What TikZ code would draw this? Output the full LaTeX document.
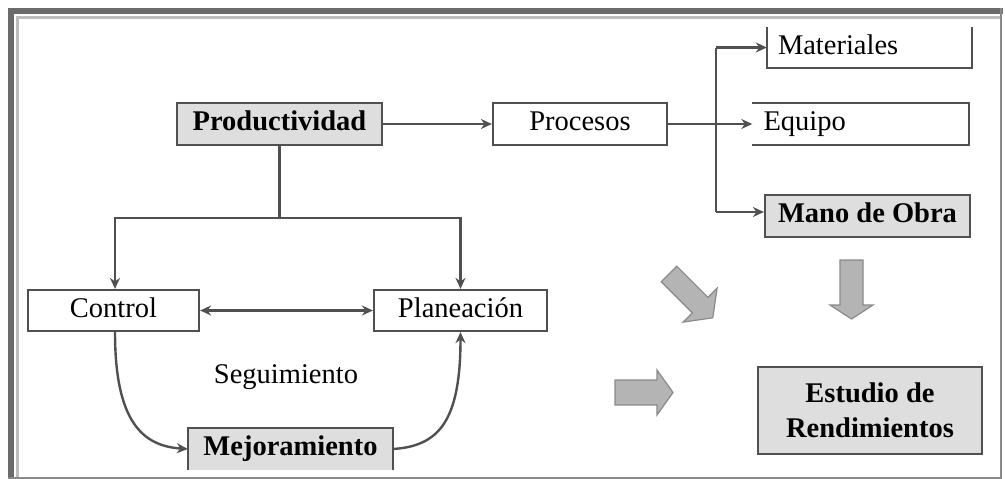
\documentclass[tikz,border=0pt]{standalone}
\usepackage{fontspec}
\setmainfont{Liberation Serif}
\usetikzlibrary{arrows.meta}
\definecolor{boxline}{HTML}{505050}
\definecolor{boxfill}{HTML}{DEDEDE}
\definecolor{blockfill}{HTML}{B4B4B4}
\definecolor{blockline}{HTML}{8A8A8A}
\definecolor{framedark}{HTML}{6B6B6B}
\definecolor{framelight}{HTML}{BDBDBD}
\begin{document}
\begin{tikzpicture}[x=1pt,y=-1pt,
  txt/.style={font=\fontsize{28.5}{34}\selectfont, inner sep=0pt, text height=19pt, text depth=6pt},
  plainbox/.style={txt, draw=boxline, line width=2.2pt, fill=white},
  openbox/.style={txt, fill=white},
  greybox/.style={txt, draw=boxline, line width=2.2pt, fill=boxfill, font=\bfseries\fontsize{28.5}{34}\selectfont},
  edgeline/.style={draw=boxline, line width=2.2pt},
  conn/.style={draw=boxline, line width=2.4pt, -{Stealth[length=11pt,width=10pt]}},
  conntwo/.style={draw=boxline, line width=2.4pt, {Stealth[length=11pt,width=10pt]}-{Stealth[length=11pt,width=10pt]}},
  plainline/.style={draw=boxline, line width=2.4pt},
  blockarrow/.style={fill=blockfill, draw=blockline, line width=1.2pt, line join=miter}
]
\useasboundingbox (0,0) rectangle (1005,479);
\fill[white] (0,0) rectangle (1005,479);
% frame
\fill[framedark] (8,8) rectangle (1003,14);
\fill[framedark] (8,8) rectangle (14,479);
\draw[framelight, line width=3pt] (17.5,477) -- (17.5,17.5) -- (1000,17.5);
\draw[framedark!80, line width=2pt] (1001,8) -- (1001,478) -- (8,478);

% nodes
\node[greybox, minimum width=205pt, minimum height=42pt] (prod) at (279.5,124) {Productividad};
\node[plainbox, minimum width=174pt, minimum height=42pt] (proc) at (580,124) {Procesos};
\node[openbox, minimum width=205pt, minimum height=41pt, text width=183pt, inner xsep=11pt, align=left] (mat) at (869.5,47.5) {Materiales};
\node[openbox, minimum width=205pt, minimum height=42pt, text width=194pt, inner xsep=11pt, align=left] (equ) at (860.5,124) {Equipo};
\node[greybox, minimum width=205pt, minimum height=42pt] (mano) at (867.5,216) {Mano de Obra};
\node[plainbox, minimum width=171pt, minimum height=41pt] (ctrl) at (113.5,310.5) {Control};
\node[plainbox, minimum width=173pt, minimum height=41pt] (plan) at (460.5,310.5) {Planeación};
\node[openbox, fill=boxfill, minimum width=205pt, minimum height=42pt, font=\bfseries\fontsize{28.5}{34}\selectfont] (mej) at (290.5,449) {Mejoramiento};
\node[txt] (seg) at (286,377) {Seguimiento};
\node[greybox, minimum width=224pt, minimum height=87pt, align=center, text height=, text depth=, font=\bfseries\fontsize{28.5}{35}\selectfont] (est) at (870,410.5) {Estudio de\\Rendimientos};

% partial borders
\draw[edgeline] (mat.north west) -- (mat.south west) -- (mat.south east) -- (mat.north east);
\draw[edgeline] (equ.north west) -- (equ.north east) -- (equ.south east) -- (equ.south west);
\draw[edgeline] (mej.south west) -- (mej.north west) -- (mej.north east) -- (mej.south east);

% connectors
\draw[conn] (prod.east) -- (proc.west);
\draw[conn] (proc.east) -- (equ.west);
\coordinate (bus) at (716,124);
\coordinate (manoin) at ([yshift=4pt]mano.west);
\coordinate (bustop) at (bus |- mat.west);
\coordinate (busbot) at (bus |- manoin);
\draw[plainline] (bustop) -- (busbot);
\draw[conn] (bustop) -- (mat.west);
\draw[conn] (busbot) -- (manoin);

\coordinate (j) at (279.5,218);
\coordinate (ctrlin) at ([xshift=1.5pt]ctrl.north);
\coordinate (ctrlout) at ([xshift=1.5pt]ctrl.south);
\draw[plainline] (prod.south) -- (j);
\draw[conn] (j) -| (ctrlin);
\draw[conn] (j) -| (plan.north);
\draw[conntwo] (ctrl.east) -- (plan.west);

\draw[conn] (ctrlout) .. controls +(0,90) and +(-45,-3) .. (mej.west);
\draw[conn] (mej.east) .. controls +(45,-3) and +(0,90) .. (plan.south);

% block arrows
\draw[blockarrow] (676.8,266.2) -- (707.9,297.3) -- (717.1,288.1) -- (712.8,317.8) -- (683.1,322.1) -- (692.3,312.9) -- (661.2,281.8) -- cycle;
\draw[blockarrow] (840,260) -- (863,260) -- (863,305) -- (873,305) -- (851.5,319) -- (830,305) -- (840,305) -- cycle;
\draw[blockarrow] (615,380) -- (657,380) -- (657,370) -- (673,392.5) -- (657,415) -- (657,405) -- (615,405) -- cycle;
\end{tikzpicture}
\end{document}
